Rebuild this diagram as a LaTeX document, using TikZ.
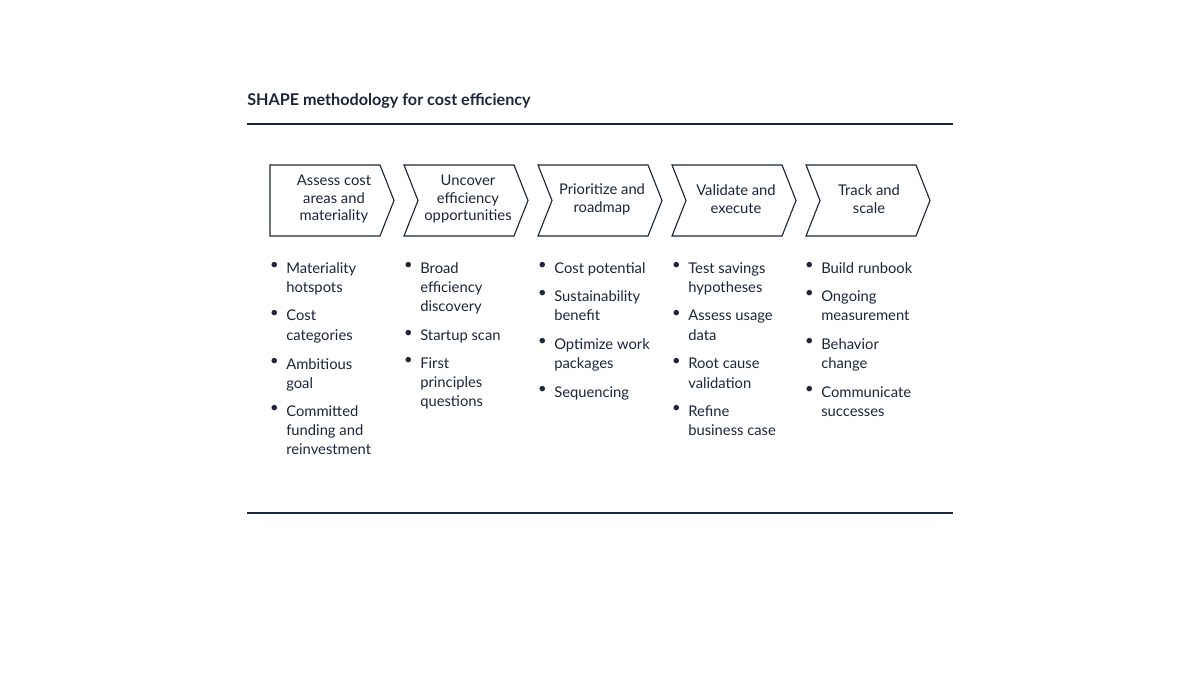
\documentclass[tikz,border=0pt]{standalone}
\usepackage{fontspec}
\setmainfont{Lato}
\usetikzlibrary{positioning}
\definecolor{navy}{RGB}{27, 38, 59}
\tikzset{
  chevron/.style={draw=navy, line width=0.8pt, fill=white},
  steptext/.style={font=\fontsize{10.5}{12.6}\selectfont, text=navy, align=center, inner sep=0pt},
  item/.style={font=\fontsize{10.5}{13.8}\selectfont, text=navy, align=left, inner sep=0pt, anchor=north west},
  dot/.style={font=\fontsize{10.5}{13.8}\selectfont, text=navy, inner sep=0pt, anchor=north east}
}
\begin{document}
\begin{tikzpicture}[x=0.025cm, y=-0.025cm]
  \useasboundingbox (0,0) rectangle (1200,675);

  % Title and rules
  \node[anchor=base west, inner sep=0pt, text=navy, font=\fontsize{11.5}{14}\selectfont\bfseries] (title) at (247,106) {SHAPE methodology for cost efficiency};
  \draw[navy, line width=0.8pt] (247,124) -- (953,124);
  \draw[navy, line width=0.8pt] (247,513) -- (953,513);

  % First step has a flat left side
  \draw[chevron] (270,165) -- (380,165) -- (394,200.5) -- (380,236) -- (270,236) -- cycle;
  % Other steps are notched
  \foreach \x in {404,538,672,806} {
      \draw[chevron] (\x,165) -- (\x+110,165) -- (\x+124,200.5) -- (\x+110,236) -- (\x,236) -- (\x+14,200.5) -- cycle;
  }

  % Step labels
  \node[steptext] (assess) at (334,199) {Assess cost\\areas and\\materiality};
  \node[steptext] (uncover) at (468,199) {Uncover\\efficiency\\opportunities};
  \node[steptext] (prioritize) at (602,199) {Prioritize and\\roadmap};
  \node[steptext] (validate) at (736,199) {Validate and\\execute};
  \node[steptext] (track) at (869,199) {Track and\\scale};

  % Bullet lists
  \foreach \y/\t [count=\i] in {262/{Materiality\\hotspots}, 310/{Cost\\categories}, 358/{Ambitious\\goal}, 405/{Committed\\funding and\\reinvestment}} {
      \node[item] (a\i) at (286,\y) {\t};
      \node[dot] (a\i-dot) at (279,\y) {\textbullet};
  }
  \foreach \y/\t [count=\i] in {262/{Broad\\efficiency\\discovery}, 330/{Startup scan}, 357/{First\\principles\\questions}} {
      \node[item] (b\i) at (420,\y) {\t};
      \node[dot] (b\i-dot) at (413,\y) {\textbullet};
  }
  \foreach \y/\t [count=\i] in {262/{Cost potential}, 290/{Sustainability\\benefit}, 338/{Optimize work\\packages}, 386/{Sequencing}} {
      \node[item] (c\i) at (554,\y) {\t};
      \node[dot] (c\i-dot) at (547,\y) {\textbullet};
  }
  \foreach \y/\t [count=\i] in {262/{Test savings\\hypotheses}, 310/{Assess usage\\data}, 358/{Root cause\\validation}, 405/{Refine\\business case}} {
      \node[item] (d\i) at (688,\y) {\t};
      \node[dot] (d\i-dot) at (681,\y) {\textbullet};
  }
  \foreach \y/\t [count=\i] in {262/{Build runbook}, 290/{Ongoing\\measurement}, 338/{Behavior\\change}, 386/{Communicate\\successes}} {
      \node[item] (e\i) at (821,\y) {\t};
      \node[dot] (e\i-dot) at (814,\y) {\textbullet};
  }
\end{tikzpicture}
\end{document}
